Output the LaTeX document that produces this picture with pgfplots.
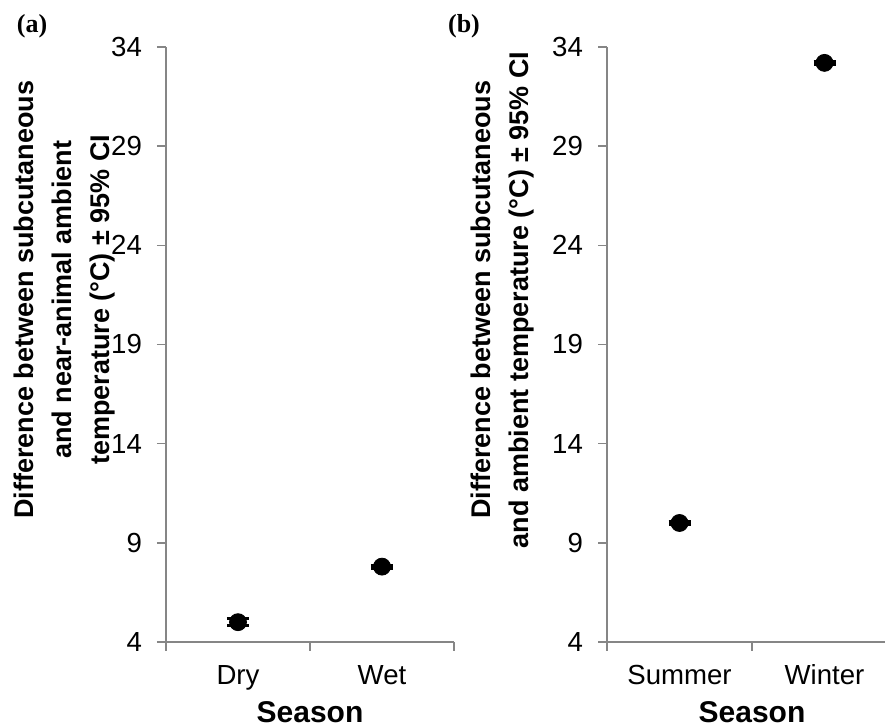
\documentclass[border=0pt]{standalone}
\usepackage{pgfplots}
\pgfplotsset{compat=1.18}
\usepackage{fontspec}
\setmainfont{Liberation Sans}
\newfontfamily\tnr{Liberation Serif}
\definecolor{axgray}{RGB}{134,134,134}
\pgfplotsset{
 panel/.style={
  scale only axis, height=297.5pt,
  ymin=4, ymax=34, ytick={4,9,...,34},
  xmin=-0.5, xmax=1.5, xtick={0,1},
  minor xtick={-0.5,0.5,1.5},
  axis x line*=bottom, axis y line*=left,
  axis line style={axgray, line width=0.7pt},
  tick style={axgray, line width=0.7pt},
  tick align=outside,
  major tick length=4.5pt, minor tick length=4.5pt,
  major x tick style={draw=none},
  /pgf/number format/assume math mode=true,
  tick label style={font=\fontsize{13.8}{16}\selectfont, text=black},
  yticklabel style={xshift=-4pt},
  xticklabel style={yshift=-3pt, text height=10pt, text depth=3pt},
  xlabel={\textbf{Season}},
  xlabel style={font=\fontsize{15}{18}\selectfont, at={(axis description cs:0.5,0)}, anchor=center, yshift=-35pt},
  clip=false,
 },
 pts/.style={only marks, mark=*, black, mark size=4.25pt, mark options={fill=black, draw=black},
  error bars/.cd, y dir=both, y explicit,
  error bar style={line width=1.5pt, black},
  error mark options={rotate=90, mark size=5.5pt, line width=1.5pt, black}},
}
\begin{document}
\begin{tikzpicture}
\useasboundingbox (0,0) rectangle (442.5pt,363.5pt);
\node[font=\tnr\bfseries\fontsize{13}{15}\selectfont] at (16pt,350.5pt) {(a)};
\node[font=\tnr\bfseries\fontsize{13}{15}\selectfont] at (232pt,350.5pt) {(b)};
\begin{axis}[panel, width=144pt, at={(83pt,42.5pt)}, anchor=south west,
  xticklabels={Dry,Wet},
  ylabel={Difference between subcutaneous\\and near-animal ambient\\temperature (°C) ± 95\% CI},
  ylabel style={font=\bfseries\fontsize{13.5}{19}\selectfont, align=center, at={(axis description cs:-0.351,0.575)}, anchor=center},
 ]
 \addplot+[pts] coordinates {(0,5.0) +- (0,0.18) (1,7.8) +- (0,0.08)};
\end{axis}
\begin{axis}[panel, width=145pt, at={(303.5pt,42.5pt)}, anchor=south west,
  xticklabels={Summer,Winter},
  ylabel={Difference between subcutaneous\\and ambient temperature (°C) ± 95\% CI},
  ylabel style={font=\bfseries\fontsize{13.5}{19}\selectfont, align=center, at={(axis description cs:-0.362,0.575)}, anchor=center},
 ]
 \addplot+[pts] coordinates {(0,10.0) +- (0,0.08) (1,33.2) +- (0,0.08)};
\end{axis}
\end{tikzpicture}
\end{document}
